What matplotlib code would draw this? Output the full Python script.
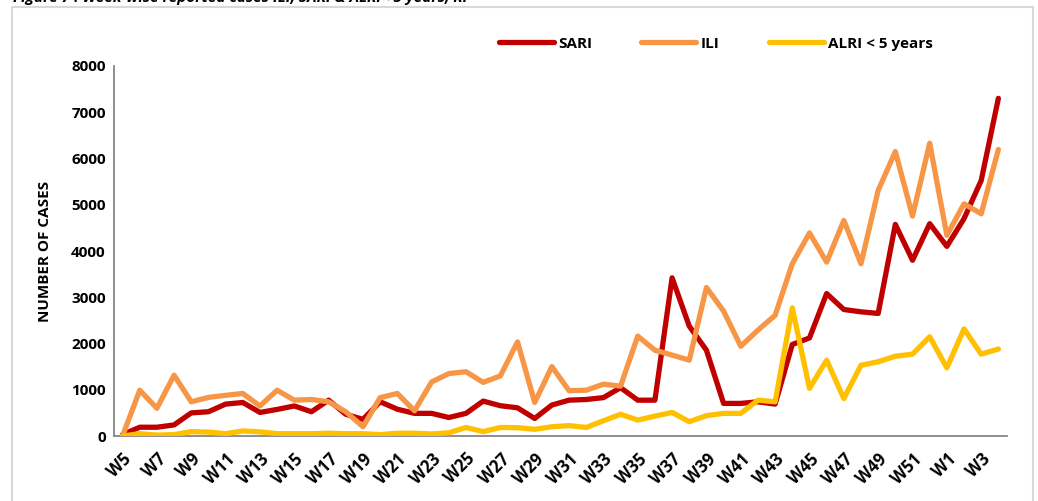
import matplotlib.pyplot as plt
from matplotlib.patches import Rectangle
import numpy as np

plt.rcParams['font.family'] = ['Open Sans', 'DejaVu Sans']

# week labels W5..W52 then W1..W4
weeks = ['W%d' % w for w in range(5, 53)] + ['W%d' % w for w in range(1, 5)]

sari = [30, 190, 190, 240, 500, 525, 690, 725, 510, 575, 650, 525, 775, 470, 360, 740,
        580, 490, 490, 400, 490, 755, 655, 610, 380, 670, 775, 790, 830, 1045, 775, 775,
        3420, 2375, 1855, 705, 705, 740, 690, 1980, 2120, 3080, 2735, 2685, 2650, 4575,
        3800, 4590, 4100, 4700, 5525, 7300]
ili = [0, 990, 600, 1315, 740, 835, 880, 920, 650, 990, 775, 790, 740, 525, 200, 830,
       920, 545, 1170, 1350, 1390, 1160, 1300, 2035, 725, 1500, 980, 990, 1120, 1080, 2160, 1855,
       1750, 1640, 3210, 2700, 1940, 2290, 2610, 3725, 4390, 3760, 4660, 3725, 5310, 6150,
       4755, 6330, 4340, 5020, 4805, 6195]
alri = [0, 50, 20, 30, 95, 85, 50, 110, 90, 50, 50, 50, 60, 50, 50, 30,
        60, 60, 45, 70, 185, 95, 185, 180, 145, 200, 225, 185, 330, 470, 345, 430,
        510, 310, 440, 490, 490, 775, 740, 2770, 1030, 1640, 810, 1530, 1605, 1725,
        1770, 2145, 1475, 2315, 1770, 1880]

fig = plt.figure(figsize=(10.38, 5.01), dpi=100)
ax = fig.add_axes([0.1098, 0.1297, 0.8603, 0.7386])

x = np.arange(len(weeks))
ax.plot(x, sari, color='#C00000', lw=3.8, label='SARI', solid_capstyle='round', zorder=3)
ax.plot(x, ili, color='#F79646', lw=3.8, label='ILI', solid_capstyle='round', zorder=4)
ax.plot(x, alri, color='#FFC000', lw=3.8, label='ALRI < 5 years', solid_capstyle='round', zorder=5)

ax.set_xlim(-0.5, len(weeks) - 0.5)
ax.set_ylim(0, 8000)
ax.set_yticks(range(0, 8001, 1000))
ax.set_yticklabels([str(v) for v in range(0, 8001, 1000)], fontsize=11, fontweight='bold')
ax.set_xticks(x[::2])
ax.set_xticklabels(weeks[::2], rotation=45, ha='right', rotation_mode='anchor',
                   fontsize=12, fontweight='bold')
ax.tick_params(axis='both', length=0, pad=6)
ax.tick_params(axis='x', pad=10)

for s in ['top', 'right']:
    ax.spines[s].set_visible(False)
for s in ['left', 'bottom']:
    ax.spines[s].set_color('#868686')
    ax.spines[s].set_linewidth(1.3)

ax.set_ylabel('NUMBER OF CASES', fontsize=11, fontweight='bold', labelpad=14)

leg = ax.legend(loc='center', bbox_to_anchor=(0.674, 1.06), ncol=3, frameon=False,
                handlelength=3.6, columnspacing=3.2, handletextpad=0.3,
                prop={'weight': 'bold', 'size': 11})

# chart area border and clipped caption
fig.patches.append(Rectangle((12 / 1038, -0.1), 1021 / 1038, 1.086, transform=fig.transFigure,
                             fill=False, edgecolor='#D9D9D9', lw=1.5))
fig.text(0.013, 1.003, 'Figure 7 : Week-wise reported cases ILI, SARI & ALRI< 5 years, KP',
         fontsize=11, fontweight='bold', style='italic', va='center', ha='left')

fig.savefig('out.png', dpi=100)
